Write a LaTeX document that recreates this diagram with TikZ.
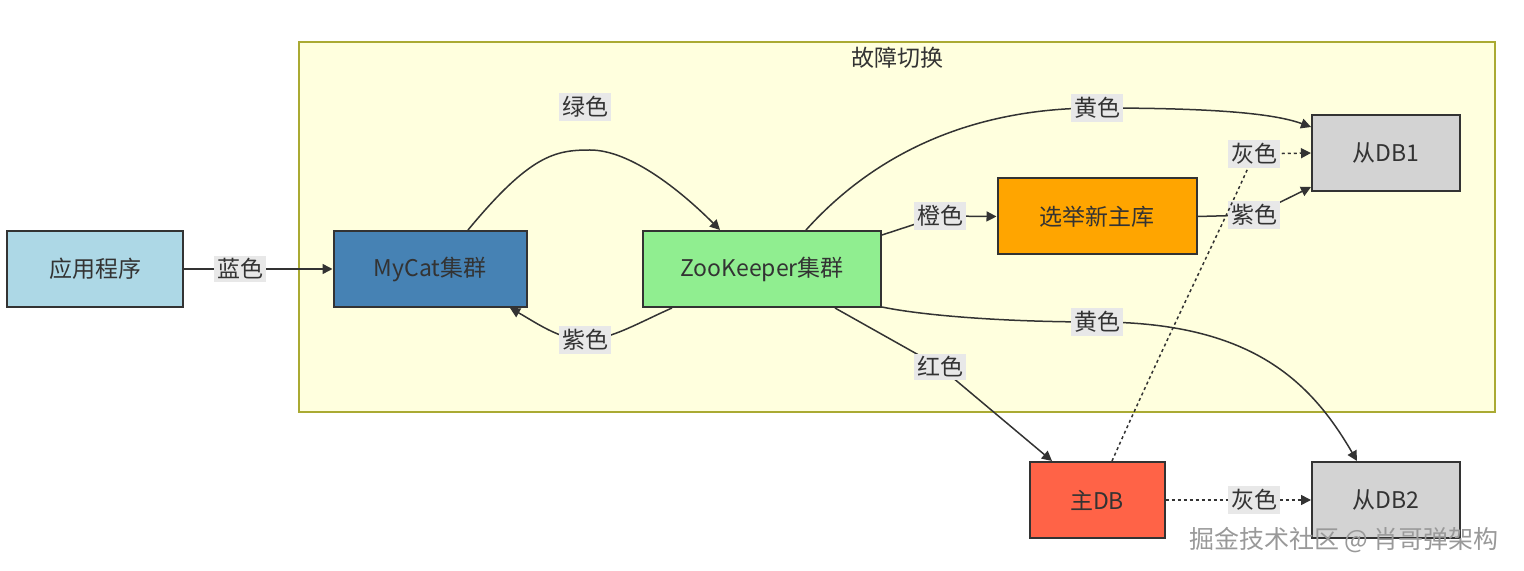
\documentclass[tikz,border=0pt]{standalone}
\usepackage{fontspec}
\setmainfont{Noto Sans CJK SC}
\usepackage{xcolor}
\usetikzlibrary{arrows.meta}
\definecolor{clusterfill}{HTML}{FFFFDE}
\definecolor{clusterline}{HTML}{AAAA33}
\definecolor{edgeline}{HTML}{333333}
\definecolor{lblfill}{HTML}{E8E8E8}
\definecolor{appblue}{HTML}{ADD8E6}
\definecolor{catblue}{HTML}{4682B4}
\definecolor{zkgreen}{HTML}{90EE90}
\definecolor{electorange}{HTML}{FFA500}
\definecolor{masterred}{HTML}{FF6347}
\definecolor{slavegray}{HTML}{D3D3D3}
\tikzset{box/.style={draw=edgeline, line width=1pt, minimum height=38pt, text=edgeline,
   font=\fontsize{11.5}{13}\selectfont},
 lbl/.style={fill=lblfill, inner sep=1.5pt, text=edgeline, font=\fontsize{11.5}{13}\selectfont},
 edge/.style={draw=edgeline, line width=0.75pt, -{Triangle[length=5pt,width=5pt]}},
 dotedge/.style={edge, dash pattern=on 1.5pt off 1.5pt},
 }

\begin{document}
\begin{tikzpicture}[x=0.5pt, y=-0.5pt]
        \useasboundingbox (0,0) rectangle (1524,571);
        \draw[fill=clusterfill, draw=clusterline, line width=0.6pt] (299,42) rectangle (1495,412);
        \node[text=edgeline, font=\fontsize{11.5}{13}\selectfont] (title) at (897,58) {故障切换};
        \node[box, fill=appblue, minimum width=88pt] (app) at (95,269) {应用程序};
        \node[box, fill=catblue, minimum width=96.5pt] (mycat) at (430,269) {MyCat集群};
        \node[box, fill=zkgreen, minimum width=119pt] (zk) at (762,269) {ZooKeeper集群};
        \node[box, fill=electorange, minimum width=99.5pt] (elect) at (1097,216.5) {选举新主库};
        \node[box, fill=slavegray, minimum width=74pt] (db1) at (1386,153) {从DB1};
        \node[box, fill=masterred, minimum width=67.5pt] (master) at (1097,500) {主DB};
        \node[box, fill=slavegray, minimum width=74pt] (db2) at (1386,500) {从DB2};
        % links
        \draw[edge] (app) -- (240,269) node[lbl] {蓝色} -- (mycat);
        \draw[edge] ([xshift=19pt]mycat.north) .. controls (530,155) and (555,150) .. (590,150)
            .. controls (630,150) and (680,190) .. ([xshift=-21pt]zk.north);
        \node[lbl] (lgreen) at (585,107) {绿色};
        \draw[edge] ([xshift=-45pt]zk.south) .. controls (640,322) and (610,340) .. (585,340)
            node[lbl] {紫色} .. controls (560,340) and (535,322) .. ([xshift=40pt]mycat.south);
        \draw[edge] ([xshift=22pt]zk.north) .. controls (860,170) and (950,108) .. (1097,108)
            node[lbl] {黄色} .. controls (1200,108) and (1270,112) .. ([yshift=13pt]db1.west);
        \draw[edge] ([yshift=17pt]zk.east) -- (940,216) node[lbl] {橙色} -- (elect.west);
        \draw[edge] (elect.east) -- (1254,215) node[lbl] {紫色} -- ([yshift=-17pt]db1.west);
        \draw[edge] ([yshift=-19pt]zk.east) .. controls (920,315) and (1000,322) .. (1097,322)
            node[lbl] {黄色} .. controls (1250,322) and (1310,380) .. ([xshift=-14.5pt]db2.north);
        \draw[edge] ([xshift=36.5pt]zk.south) -- (940,367) node[lbl] {红色} -- ([xshift=-22.5pt]master.north);
        \draw[dotedge] ([xshift=7.5pt]master.north) .. controls (1170,330) and (1235,200) .. (1254,154)
            node[lbl] {灰色} -- (db1.west);
        \draw[dotedge] (master) -- (1254,500) node[lbl] {灰色} -- (db2);
        \node[anchor=east, text=gray!80, font=\fontsize{12.5}{14}\selectfont] (mark) at (1506,540) {掘金技术社区 @ 肖哥弹架构};
    \end{tikzpicture}
\end{document}
